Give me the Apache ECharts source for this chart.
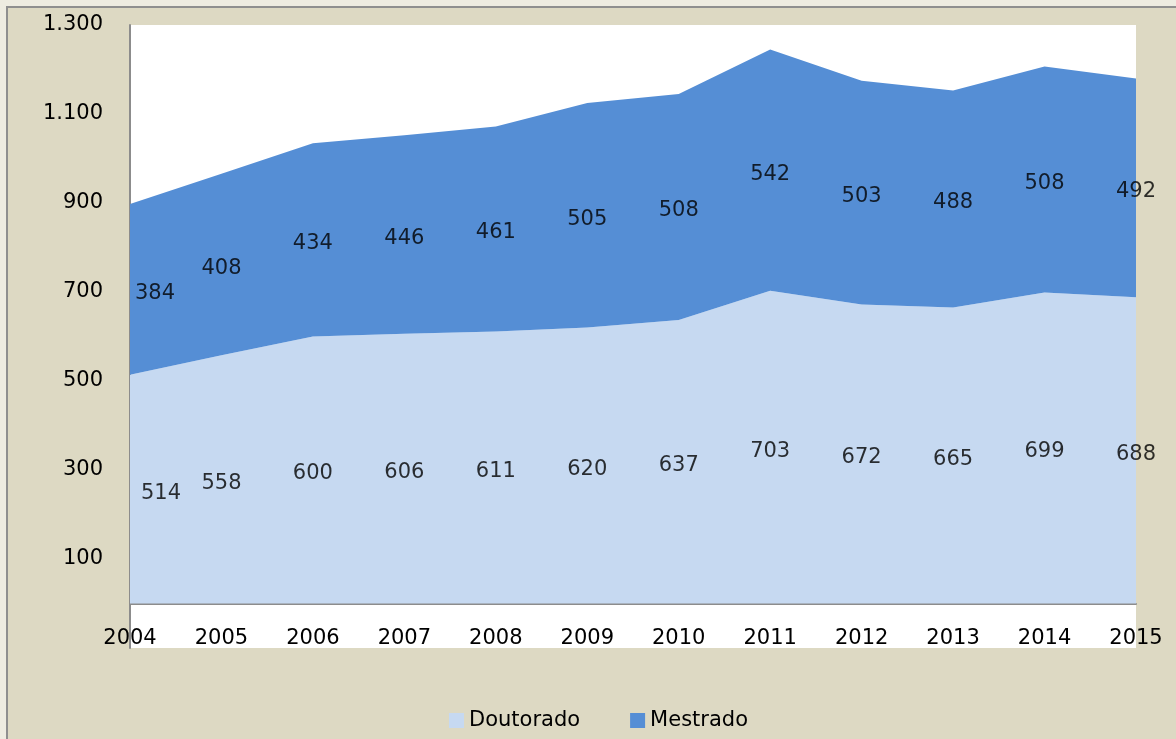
<!DOCTYPE html>
<html>
<head>
<meta charset="utf-8">
<script src="https://cdn.jsdelivr.net/npm/echarts@6/dist/echarts.min.js"></script>
<style>
  html, body { margin: 0; padding: 0; background: #eeece1; overflow: hidden; }
  #frame {
    position: absolute; left: 6px; top: 6px; width: 1170px; height: 733px;
    border-left: 2px solid #8f8f8f; border-top: 2px solid #8f8f8f; box-sizing: border-box;
  }
  #main { position: absolute; left: 8px; top: 8px; width: 1168px; height: 731px; }
</style>
</head>
<body>
<div id="frame"></div>
<div id="main"></div>
<script>
// anos (eixo x)
const anos = ['2004', '2005', '2006', '2007', '2008', '2009', '2010', '2011', '2012', '2013', '2014', '2015']
// valores
const doutorado = [514, 558, 600, 606, 611, 620, 637, 703, 672, 665, 699, 688]
const mestrado = [384, 408, 434, 446, 461, 505, 508, 542, 503, 488, 508, 492]

const fonte = 'DejaVu Sans'

// rótulos no meio de cada faixa empilhada
function rotulos (base, vals, desloc) {
  return vals.map((v, i) => ({
    value: [i, base[i] + v / 2, v],
    label: { offset: [i === 0 ? desloc : 0, 4] }
  }))
}
const zeros = anos.map(() => 0)

const estiloRotulo = {
  show: true,
  position: 'inside',
  color: '#000',
  textBorderWidth: 0,
  fontSize: 21,
  fontFamily: fonte,
  formatter: p => p.value[2]
}

let myChart = echarts.init(document.getElementById('main'))
let option = {
  backgroundColor: '#ddd9c3',
  animation: false,
  textStyle: { fontFamily: fonte },
  grid: {
    left: 122,
    right: 40,
    top: 17,
    bottom: 91,
    show: true,
    backgroundColor: '#ffffff',
    borderWidth: 0
  },
  legend: {
    left: 436,
    top: 697,
    itemWidth: 15,
    itemHeight: 15,
    itemGap: 50,
    icon: 'rect',
    textStyle: { fontSize: 21, color: '#000', fontFamily: fonte },
    data: ['Doutorado', 'Mestrado']
  },
  xAxis: {
    type: 'category',
    boundaryGap: false,
    data: anos,
    axisLine: { lineStyle: { color: '#8c8c8c', width: 2 } },
    axisTick: { show: false },
    axisLabel: { color: '#000', fontSize: 21, margin: -20, fontFamily: fonte }
  },
  yAxis: {
    type: 'value',
    min: -100,
    max: 1300,
    interval: 200,
    splitLine: { show: false },
    axisTick: { show: false },
    axisLine: { show: true, lineStyle: { color: '#8c8c8c', width: 2 } },
    axisLabel: {
      color: '#000',
      fontSize: 21,
      margin: 27,
      padding: [6, 0, 0, 0],
      fontFamily: fonte,
      showMinLabel: false,
      formatter: v => v.toLocaleString('pt-BR')
    }
  },
  series: [
    {
      name: 'Doutorado',
      type: 'line',
      stack: 'total',
      symbol: 'none',
      lineStyle: { width: 0 },
      itemStyle: { color: '#c6d9f1' },
      areaStyle: { color: '#c6d9f1', opacity: 1 },
      data: doutorado
    },
    {
      name: 'Mestrado',
      type: 'line',
      stack: 'total',
      symbol: 'none',
      lineStyle: { width: 0 },
      itemStyle: { color: '#558ed5' },
      areaStyle: { color: '#558ed5', opacity: 1 },
      data: mestrado
    },
    {
      type: 'scatter',
      symbolSize: 0,
      silent: true,
      z: 10,
      label: estiloRotulo,
      data: rotulos(zeros, doutorado, 31)
    },
    {
      type: 'scatter',
      symbolSize: 0,
      silent: true,
      z: 10,
      label: estiloRotulo,
      data: rotulos(doutorado, mestrado, 25)
    }
  ]
}
myChart.setOption(option)
</script>
</body>
</html>
